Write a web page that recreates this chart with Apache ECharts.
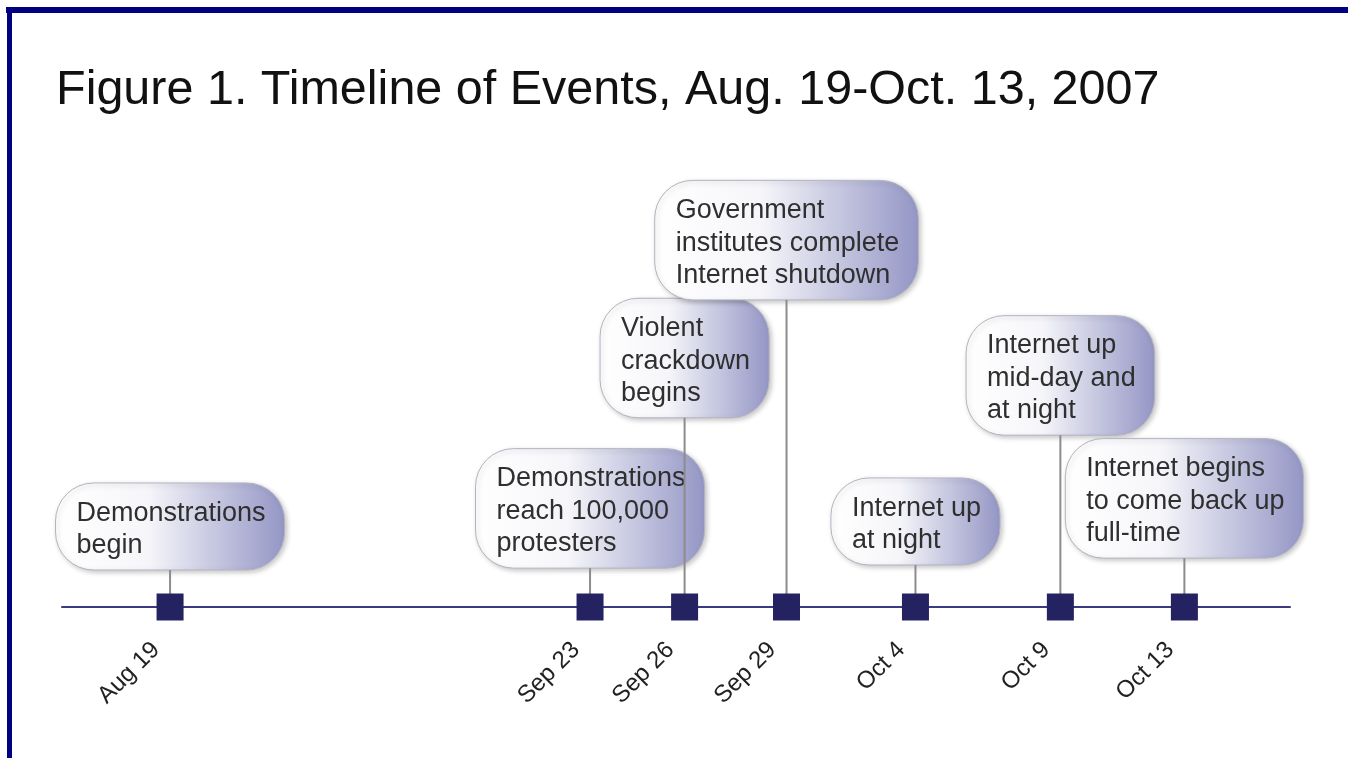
<!DOCTYPE html>
<html>
<head>
<meta charset="utf-8">
<script src="https://cdn.jsdelivr.net/npm/echarts@6/dist/echarts.min.js"></script>
<style>
  html, body { margin: 0; padding: 0; background: #fff; }
  #timeline { width: 1348px; height: 758px; }
</style>
</head>
<body>
<div id="timeline"></div>
<script>
// dates on the timeline and where they sit along it (0-100, not to scale in time)
const dateLabels = ['Aug 19', 'Sep 23', 'Sep 26', 'Sep 29', 'Oct 4', 'Oct 9', 'Oct 13'];
const datePos = [8.8, 43.0, 50.7, 59.0, 69.5, 81.3, 91.4];
// height of each callout's stem above the line (0-100)
const stemHeight = [8.1, 8.5, 41.4, 67.2, 9.2, 37.6, 10.7];
const eventText = [
  ['Demonstrations', 'begin'],
  ['Demonstrations', 'reach 100,000', 'protesters'],
  ['Violent', 'crackdown', 'begins'],
  ['Government', 'institutes complete', 'Internet shutdown'],
  ['Internet up', 'at night'],
  ['Internet up', 'mid-day and', 'at night'],
  ['Internet begins', 'to come back up', 'full-time']
];

const FONT = "'Liberation Sans', Arial, sans-serif";
const BODY_SIZE = 27;
const LINE_H = 32.5;

const ctx = document.createElement('canvas').getContext('2d');
ctx.font = BODY_SIZE + 'px ' + FONT;

const chart = echarts.init(document.getElementById('timeline'));

function renderCallout(params, api) {
  const i = api.value(2);
  const lines = eventText[i];
  const base = api.coord([api.value(0), 0]);
  const foot = api.coord([api.value(0), api.value(1)]);
  const textW = Math.max.apply(null, lines.map(function (s) { return ctx.measureText(s).width; }));
  const w = textW + 40;
  const h = lines.length * LINE_H + 22;
  const bx = foot[0] - w / 2;
  const by = foot[1] - h;
  return {
    type: 'group',
    children: [
      {
        type: 'rect',
        shape: { x: bx, y: by, width: w, height: h, r: Math.min(38, h / 2) },
        style: {
          fill: new echarts.graphic.LinearGradient(0, 0, 1, 0, [
            { offset: 0, color: '#ffffff' },
            { offset: 0.4, color: '#f6f6fa' },
            { offset: 1, color: '#9496c5' }
          ]),
          stroke: '#b4b4c2',
          lineWidth: 1,
          shadowBlur: 5,
          shadowColor: 'rgba(0,0,0,0.22)',
          shadowOffsetX: 2,
          shadowOffsetY: 2
        }
      },
      {
        type: 'text',
        x: bx + 21,
        y: by + h / 2 + 3,
        style: {
          text: lines.join('\n'),
          fontSize: BODY_SIZE,
          fontFamily: FONT,
          lineHeight: LINE_H,
          fill: '#2f2f2f',
          align: 'left',
          verticalAlign: 'middle'
        }
      },
      {
        type: 'line',
        shape: { x1: foot[0], y1: foot[1], x2: base[0], y2: base[1] },
        style: { stroke: '#8c8c8c', lineWidth: 2 }
      }
    ]
  };
}

const option = {
  animation: false,
  backgroundColor: '#ffffff',
  title: {
    text: 'Figure 1. Timeline of Events, Aug. 19-Oct. 13, 2007',
    left: 51,
    top: 61,
    textStyle: { fontSize: 48.5, fontWeight: 'normal', color: '#111', fontFamily: FONT }
  },
  graphic: [
    { type: 'rect', shape: { x: 6, y: 7, width: 1342, height: 6 }, style: { fill: '#000080' } },
    { type: 'rect', shape: { x: 7, y: 7, width: 5, height: 751 }, style: { fill: '#000080' } }
  ],
  grid: { left: 62, right: 58, top: 150, bottom: 151 },
  xAxis: {
    type: 'value',
    min: 0,
    max: 100,
    splitLine: { show: false },
    axisTick: { show: false },
    axisLine: { show: true, lineStyle: { color: '#3b3a7e', width: 2 } },
    axisLabel: {
      customValues: datePos,
      formatter: function (v) { return dateLabels[datePos.indexOf(v)]; },
      rotate: 45,
      margin: 25,
      padding: [0, 20, 0, 0],
      fontSize: 24,
      color: '#222',
      fontFamily: FONT
    }
  },
  yAxis: { type: 'value', min: 0, max: 100, show: false },
  series: [
    {
      type: 'custom',
      renderItem: renderCallout,
      data: datePos.map(function (p, i) { return [p, stemHeight[i], i]; }),
      z: 2
    },
    {
      type: 'scatter',
      symbol: 'rect',
      symbolSize: 27,
      clip: false,
      itemStyle: { color: '#252262', opacity: 1 },
      data: datePos.map(function (p) { return [p, 0]; }),
      z: 5
    }
  ]
};

chart.setOption(option);
</script>
</body>
</html>
